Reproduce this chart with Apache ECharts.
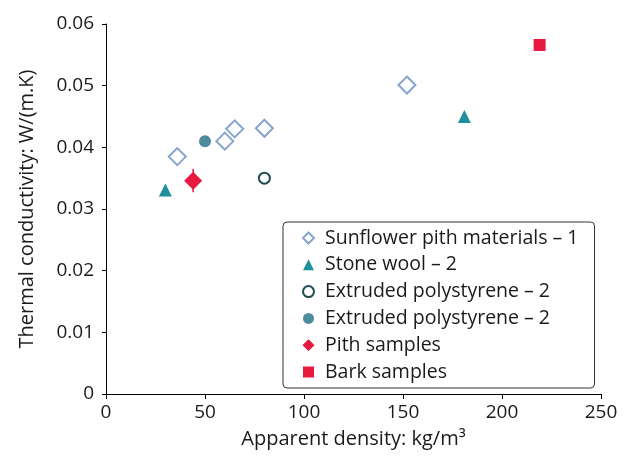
<!DOCTYPE html>
<html>
<head>
<meta charset="utf-8">
<script src="https://cdn.jsdelivr.net/npm/echarts@6/dist/echarts.min.js"></script>
<style>
  html, body { margin: 0; padding: 0; background: #fff; }
  #chart { width: 631px; height: 458px; }
</style>
</head>
<body>
<div id="chart"></div>
<script>
// values: [density kg/m3, conductivity W/(m.K)]
const sunflower = [[36, 0.0385], [60, 0.041], [65, 0.043], [80, 0.0431], [152, 0.0501]]
const stoneWool = [[30, 0.0331], [181, 0.0450]]
const xpsOpen = [[80, 0.0350]]
const xpsFilled = [[50, 0.0410]]
const pith = [[44, 0.0346]]
const pithErr = [0.0019]
const bark = [[219, 0.0566]]

const xTicks = [0, 50, 100, 150, 200, 250]
const yTicks = [0, 0.01, 0.02, 0.03, 0.04, 0.05, 0.06]

const font = 'Open Sans, Noto Sans, sans-serif'
const chart = echarts.init(document.getElementById('chart'))

chart.setOption({
  animation: false,
  textStyle: { fontFamily: font },
  grid: { left: 106, right: 30, top: 24, bottom: 64 },
  xAxis: {
    type: 'value',
    min: xTicks[0], max: xTicks[xTicks.length - 1], interval: 50,
    name: 'Apparent density: kg/m³',
    nameLocation: 'middle', nameGap: 35,
    nameTextStyle: { fontSize: 20, color: '#1a1a1a', fontFamily: font },
    axisLine: { lineStyle: { color: '#000', width: 1 } },
    axisTick: { show: true, length: 5, lineStyle: { color: '#000' } },
    axisLabel: { fontSize: 19, color: '#1a1a1a', margin: 9, fontFamily: font },
    splitLine: { show: false }
  },
  yAxis: {
    type: 'value',
    min: yTicks[0], max: yTicks[yTicks.length - 1], interval: 0.01,
    name: 'Thermal conductivity: W/(m.K)',
    nameLocation: 'middle', nameGap: 69, nameRotate: 90,
    nameTextStyle: { fontSize: 20, color: '#1a1a1a', fontFamily: font },
    axisLine: { show: true, lineStyle: { color: '#000', width: 1 } },
    axisTick: { show: true, length: 4, lineStyle: { color: '#000' } },
    axisLabel: { fontSize: 19, color: '#1a1a1a', margin: 12, fontFamily: font,
      formatter: v => (v === 0 ? '0' : v.toFixed(2)) },
    splitLine: { show: false }
  },
  legend: {
    orient: 'vertical',
    left: 283, top: 222,
    padding: [5, 16, 5, 19],
    itemWidth: 11, itemHeight: 11, itemGap: 4.8,
    borderColor: '#333', borderWidth: 1, borderRadius: 4,
    textStyle: { fontSize: 19.5, color: '#1a1a1a', lineHeight: 22, fontFamily: font, padding: [0, 0, 0, 6] },
    data: [
      'Sunflower pith materials – 1',
      'Stone wool – 2',
      { name: 'Extruded polystyrene – 2 ', icon: 'emptyCircle', itemStyle: { borderWidth: 1 } },
      'Extruded polystyrene – 2',
      { name: 'Pith samples', itemStyle: { borderWidth: 1, borderColor: '#e8193f' } },
      'Bark samples'
    ]
  },
  series: [
    {
      name: 'Sunflower pith materials – 1', type: 'scatter', data: sunflower,
      symbol: 'emptyDiamond', symbolSize: 17,
      itemStyle: { color: '#86a4cc', borderColor: '#86a4cc', borderWidth: 2, opacity: 1 }
    },
    {
      name: 'Stone wool – 2', type: 'scatter', data: stoneWool,
      symbol: 'triangle', symbolSize: 13,
      itemStyle: { color: '#1f919b', opacity: 1 }
    },
    {
      name: 'Extruded polystyrene – 2 ', type: 'scatter', data: xpsOpen,
      symbol: 'emptyCircle', symbolSize: 11,
      itemStyle: { color: '#1e4d4f', borderColor: '#1e4d4f', borderWidth: 1.5, opacity: 1 }
    },
    {
      name: 'Extruded polystyrene – 2', type: 'scatter', data: xpsFilled,
      symbol: 'circle', symbolSize: 12,
      itemStyle: { color: '#4d8b9d', opacity: 1 }
    },
    {
      name: 'Pith samples', type: 'scatter', data: pith, z: 3,
      symbol: 'diamond', symbolSize: 18,
      itemStyle: { color: '#e8193f', opacity: 1 }
    },
    {
      name: 'Pith error', type: 'custom', z: 3,
      data: pith.map((p, i) => [p[0], p[1], pithErr[i]]),
      renderItem: (params, api) => {
        const x = api.value(0), y = api.value(1), e = api.value(2)
        const top = api.coord([x, y + e])
        const bot = api.coord([x, y - e])
        return {
          type: 'line',
          shape: { x1: top[0], y1: top[1], x2: bot[0], y2: bot[1] },
          style: { stroke: '#e8193f', lineWidth: 1.5 }
        }
      }
    },
    {
      name: 'Bark samples', type: 'scatter', data: bark,
      symbol: 'rect', symbolSize: 12,
      itemStyle: { color: '#e8193f', opacity: 1 }
    }
  ]
})
</script>
</body>
</html>
